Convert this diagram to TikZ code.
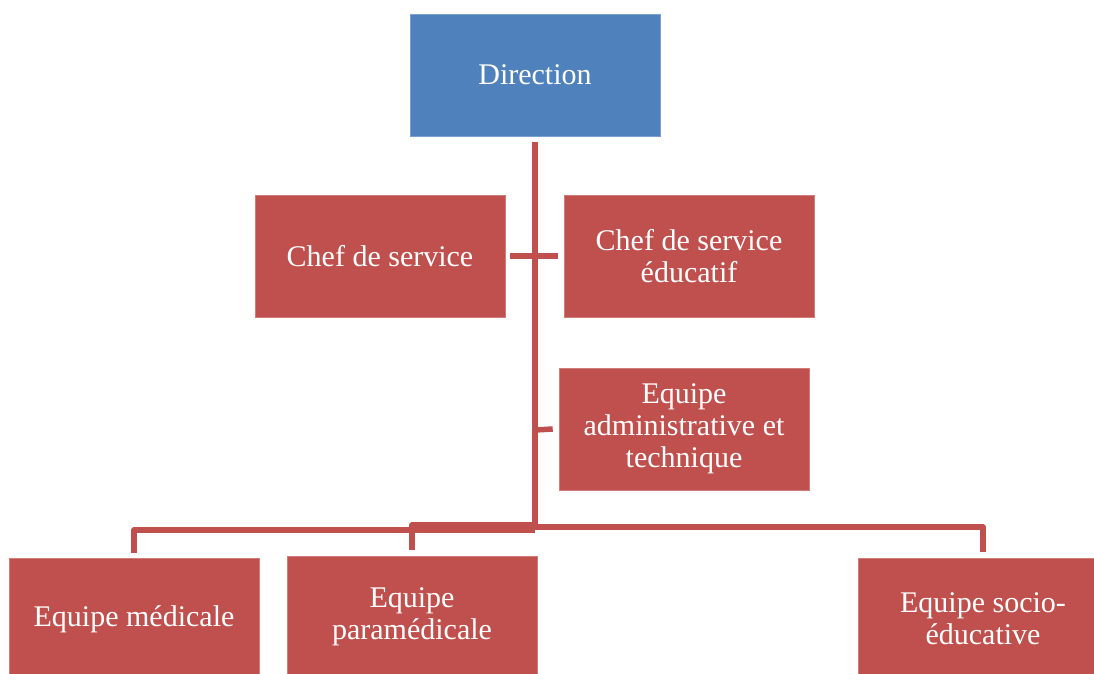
\documentclass[tikz,border=0pt]{standalone}
\usepackage{fontspec}
\setmainfont{Liberation Serif}
\definecolor{boxred}{HTML}{C0504D}
\definecolor{boxblue}{HTML}{4F81BD}
\begin{document}
\begin{tikzpicture}[x=1pt,y=-1pt,
  orgbox/.style={fill=boxred,draw=boxred!75!white,line width=0.6pt,text=white,minimum width=250pt,minimum height=122pt,inner sep=0pt,align=center,
    font=\fontsize{30}{32}\selectfont},
  conn/.style={draw=boxred,line width=5.5pt,line join=round}]
\useasboundingbox (0,0) rectangle (1094,673);
\clip (0,0) rectangle (1094,673);
\node[orgbox,fill=boxblue,draw=boxblue!75!white] (dir) at (535,75) {Direction};
\node[orgbox] (chef) at (380,256) {Chef de service};
\node[orgbox] (chefedu) at (689,256) {Chef de service\\éducatif};
\node[orgbox] (admin) at (684,429) {Equipe\\administrative et\\technique};
\node[orgbox] (med) at (134,619) {Equipe médicale};
\node[orgbox] (para) at (412,617) {Equipe\\paramédicale};
\node[orgbox] (socio) at (983,619) {Equipe socio-\\éducative};
\coordinate (hub) at (535,527);
\coordinate (tadmin) at (535,430);
\draw[conn] ([yshift=-6pt]dir.south) -- ([yshift=-3pt]hub);
\draw[conn] ([xshift=5pt]chef.east) -- ([xshift=-6pt]chefedu.west);
\draw[conn] (tadmin) -- ([xshift=-6pt]admin.west);
\draw[conn] ([yshift=-3pt]hub) -| ([yshift=5pt]med.north);
\draw[conn] ([yshift=2pt]hub) -| ([yshift=6pt]para.north);
\draw[conn] (hub) -| ([yshift=6pt]socio.north);
\end{tikzpicture}
\end{document}
